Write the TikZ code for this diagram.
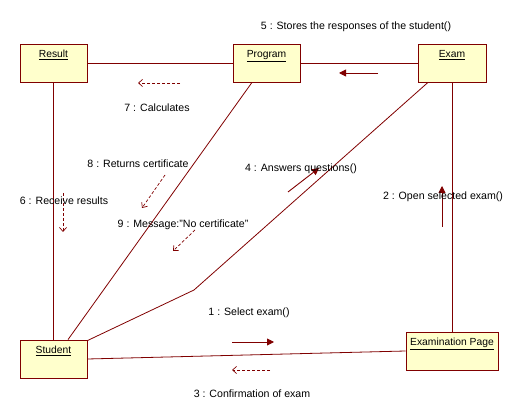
\documentclass[tikz,border=0pt]{standalone}
\usepackage{fontspec}
\setmainfont{Liberation Sans}
\usetikzlibrary{arrows.meta,positioning}
\definecolor{umlred}{RGB}{128,0,0}
\definecolor{umlfill}{RGB}{255,255,204}
\tikzset{
  object/.style={draw=umlred,fill=umlfill,thick,minimum height=38pt,inner sep=0pt},
  object label/.style={font=\fontsize{10.3}{12}\selectfont,inner sep=1pt},
  link/.style={draw=umlred,line width=0.8pt},
  call/.style={draw=umlred,line width=0.9pt,-{Triangle[length=7pt,width=7pt]}},
  reply/.style={draw=umlred,line width=0.7pt,dashed,dash pattern=on 3pt off 2pt,-{Straight Barb[length=4pt,width=7pt]}},
  msg label/.style={font=\fontsize{10.6}{12}\selectfont,inner sep=0pt}
}

\begin{document}
\begin{tikzpicture}[x=1pt,y=-1pt]
  \useasboundingbox (0,0) rectangle (530,419);

  % objects
  \node (result) [object,minimum width=67pt] at (53.5,63) {};
  \node (result_label) [object label,below=5.5pt of result.north] {\underline{Result}};
  \node (program) [object,minimum width=67pt] at (266.5,63) {};
  \node (program_label) [object label,below=5.5pt of program.north] {\underline{Program}};
  \node (exam) [object,minimum width=68pt] at (452,63) {};
  \node (exam_label) [object label,below=5.5pt of exam.north] {\underline{Exam}};
  \node (student) [object,minimum width=67pt] at (53.5,359) {};
  \node (student_label) [object label,below=5.5pt of student.north] {\underline{Student}};
  \node (exampage) [object,minimum width=92pt] at (452,351) {};
  \node (exampage_label) [object label,below=5.5pt of exampage.north] {\underline{Examination Page}};

  % links
  \coordinate (bend) at (194,290);
  \draw[link] (result) -- (program);
  \draw[link] (program) -- (exam);
  \draw[link] (result) -- (student);
  \draw[link] (exam) -- (exampage);
  \draw[link] ([xshift=-14.5pt]program.south) -- ([xshift=14.5pt]student.north);
  \draw[link] ([xshift=-24pt]exam.south) -- (bend) -- ([yshift=-1pt]student.north east);
  \draw[link] (student.east) -- (exampage.west);

  % messages
  \coordinate (m1a) at (232,342); \coordinate (m1b) at (274,342);
  \draw[call] (m1a) -- (m1b);
  \node (m1_label) [msg label] at (249,313) {1 : Select exam()};
  \coordinate (m2a) at (442,227); \coordinate (m2b) at (442,186);
  \draw[call] (m2a) -- (m2b);
  \node (m2_label) [msg label] at (443,197) {2 : Open selected exam()};
  \coordinate (m3a) at (270,370); \coordinate (m3b) at (232,370);
  \draw[reply] (m3a) -- (m3b);
  \node (m3_label) [msg label] at (252,394) {3 : Confirmation of exam};
  \coordinate (m4a) at (288,192); \coordinate (m4b) at (319,168);
  \draw[call] (m4a) -- (m4b);
  \node (m4_label) [msg label] at (301,169) {4 : Answers questions()};
  \coordinate (m5a) at (378,73); \coordinate (m5b) at (339,73);
  \draw[call] (m5a) -- (m5b);
  \node (m5_label) [msg label] at (356,27) {5 : Stores the responses of the student()};
  \coordinate (m6a) at (63,193); \coordinate (m6b) at (63,232);
  \draw[reply] (m6a) -- (m6b);
  \node (m6_label) [msg label] at (64,201) {6 : Receive results};
  \coordinate (m7a) at (180,83); \coordinate (m7b) at (138,83);
  \draw[reply] (m7a) -- (m7b);
  \node (m7_label) [msg label] at (157,108) {7 : Calculates};
  \coordinate (m8a) at (165,175); \coordinate (m8b) at (142,208);
  \draw[reply] (m8a) -- (m8b);
  \node (m8_label) [msg label] at (138,164) {8 : Returns certificate};
  \coordinate (m9a) at (195,230); \coordinate (m9b) at (173,251);
  \draw[reply] (m9a) -- (m9b);
  \node (m9_label) [msg label] at (183,225) {9 : Message:"No certificate"};
\end{tikzpicture}
\end{document}
